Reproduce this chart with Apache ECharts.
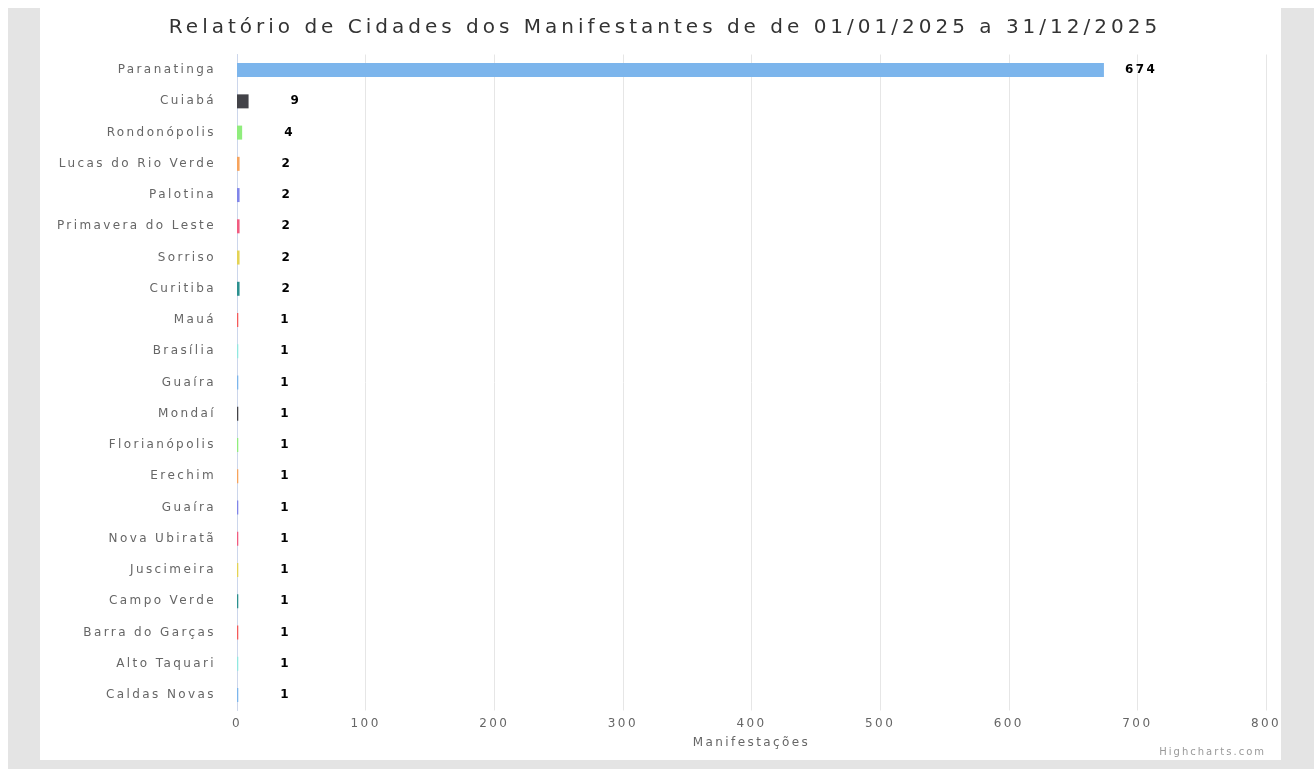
<!DOCTYPE html>
<html>
<head>
<meta charset="utf-8">
<title>Relatório de Cidades dos Manifestantes</title>
<script src="https://cdn.jsdelivr.net/npm/echarts@6/dist/echarts.min.js"></script>
<style>
  html, body { margin: 0; padding: 0; background: #ffffff; width: 1314px; height: 769px; overflow: hidden; }
  #frame { position: absolute; left: 8px; top: 8px; width: 1306px; height: 761px; background: #e4e4e4; }
  #panel { position: absolute; left: 40px; top: 0px; width: 1241px; height: 760px; background: #ffffff; }
  #chart { position: absolute; left: 0; top: 0; width: 1314px; height: 769px; }
</style>
</head>
<body>
<div id="frame"></div>
<div id="panel"></div>
<div id="chart"></div>
<script>
// Wide tracking for all chart text: letter spacing follows the font size.
(function () {
  var proto = CanvasRenderingContext2D.prototype;
  var desc = Object.getOwnPropertyDescriptor(proto, 'font');
  if (desc && 'letterSpacing' in proto) {
    Object.defineProperty(proto, 'font', {
      configurable: true,
      get: function () { return desc.get.call(this); },
      set: function (v) {
        desc.set.call(this, v);
        var m = /(\d+(?:\.\d+)?)px/.exec(v);
        this.letterSpacing = m ? (parseFloat(m[1]) * 0.2).toFixed(2) + 'px' : '0px';
      }
    });
  }
})();

const titleText = 'Relatório de Cidades dos Manifestantes de de 01/01/2025 a 31/12/2025';
const axisTitle = 'Manifestações';
const creditText = 'Highcharts.com';

const cities = [
  'Paranatinga', 'Cuiabá', 'Rondonópolis', 'Lucas do Rio Verde', 'Palotina',
  'Primavera do Leste', 'Sorriso', 'Curitiba', 'Mauá', 'Brasília', 'Guaíra',
  'Mondaí', 'Florianópolis', 'Erechim', 'Guaíra', 'Nova Ubiratã', 'Juscimeira',
  'Campo Verde', 'Barra do Garças', 'Alto Taquari', 'Caldas Novas'
];
const counts = [674, 9, 4, 2, 2, 2, 2, 2, 1, 1, 1, 1, 1, 1, 1, 1, 1, 1, 1, 1, 1];
const xTicks = [0, 100, 200, 300, 400, 500, 600, 700, 800];

const palette = ['#7cb5ec', '#434348', '#90ed7d', '#f7a35c', '#8085e9',
                 '#f15c80', '#e4d354', '#2b908f', '#f45b5b', '#91e8e1'];
const FONT = '"DejaVu Sans", Verdana, sans-serif';

const maxCount = Math.max.apply(null, counts);
const barData = counts.map(function (v, i) {
  return {
    value: v,
    itemStyle: { color: palette[i % palette.length] },
    label: { distance: v === maxCount ? 21 : 42 }
  };
});

const chart = echarts.init(document.getElementById('chart'), null, { renderer: 'canvas' });
chart.setOption({
  backgroundColor: 'transparent',
  animation: false,
  title: {
    text: titleText,
    left: 660,
    textAlign: 'center',
    top: 11,
    textStyle: { fontFamily: FONT, fontSize: 20, fontWeight: 'normal', color: '#333333' }
  },
  grid: { left: 237, right: 48, top: 54.5, bottom: 58.5, containLabel: false },
  xAxis: {
    type: 'value',
    min: xTicks[0],
    max: xTicks[xTicks.length - 1],
    interval: xTicks[1] - xTicks[0],
    name: axisTitle,
    nameLocation: 'middle',
    nameGap: 24,
    nameTextStyle: { fontFamily: FONT, fontSize: 12, color: '#666666' },
    axisLine: { show: false },
    axisTick: { show: false },
    axisLabel: { fontFamily: FONT, fontSize: 12, color: '#666666', margin: 6 },
    splitLine: { show: true, lineStyle: { color: '#e6e6e6', width: 1 } }
  },
  yAxis: {
    type: 'category',
    data: cities,
    inverse: true,
    axisLine: { show: true, lineStyle: { color: '#ccd6eb', width: 1 } },
    axisTick: { show: false },
    axisLabel: { fontFamily: FONT, fontSize: 12, color: '#666666', margin: 21, interval: 0 },
    splitLine: { show: false }
  },
  series: [{
    type: 'bar',
    data: barData,
    barWidth: 14,
    label: {
      show: true,
      position: 'right',
      fontFamily: FONT,
      fontSize: 12,
      fontWeight: 'bold',
      color: '#000000',
      textBorderColor: '#ffffff',
      textBorderWidth: 1
    }
  }],
  graphic: [{
    type: 'text',
    right: 48,
    top: 746,
    style: { text: creditText, fontFamily: FONT, fontSize: 10, fill: '#999999' }
  }]
});
</script>
</body>
</html>
